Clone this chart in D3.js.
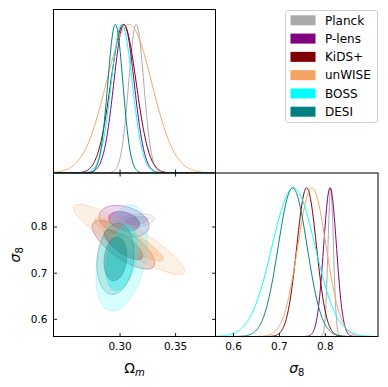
<!DOCTYPE html>
<html>
<head>
<meta charset="utf-8">
<script src="https://cdn.jsdelivr.net/npm/d3@7"></script>
<style>
  body { margin: 0; background: #fff; }
  svg { font-family: "DejaVu Sans", sans-serif; }
</style>
</head>
<body>
<div id="chart"></div>
<script>
// probes, in legend order
let probes = ["Planck", "P-lens", "KiDS+", "unWISE", "BOSS", "DESI"];
let colors = ["#aaaaaa", "#800080", "#800000", "#f4a460", "#00ffff", "#008080"];

// marginal means / widths
let omMean = [0.3150, 0.3040, 0.3035, 0.3085, 0.3020, 0.2962];
let omSigma = [0.0068, 0.0092, 0.0115, 0.0205, 0.0095, 0.0068];
let s8Mean = [0.8130, 0.8115, 0.7605, 0.7720, 0.7320, 0.7300];
let s8Sigma = [0.0060, 0.0140, 0.0215, 0.0310, 0.0470, 0.0315];
// correlation between Omega_m and sigma_8 (sets the contour tilt)
let rho = [0.30, -0.30, -0.75, -0.90, 0.35, 0.15];

let omTicks = [0.30, 0.35];
let s8Ticks = [0.6, 0.7, 0.8];
let omDomain = [0.2405, 0.3864];
let s8Domain = [0.5618, 0.9160];

// 95% and 68% levels of a 2D gaussian, with their fill opacity
let levels = [Math.sqrt(-2 * Math.log(0.05)), Math.sqrt(-2 * Math.log(0.32))];
let levelAlpha = [0.16, 0.34];

let width = 388, height = 387;
let x0 = 53.5, x1 = 215.5, x2 = 378;
let y0 = 9.5, y1 = 173, y2 = 336.5;

let svg = d3.select("#chart").append("svg")
  .attr("width", width)
  .attr("height", height);

let omScale = d3.scaleLinear().domain(omDomain).range([x0, x1]);
let s8Scale = d3.scaleLinear().domain(s8Domain).range([y2, y1]);
let s8ScaleX = d3.scaleLinear().domain(s8Domain).range([x1, x2]);
let pTop = d3.scaleLinear().domain([0, 1.1]).range([y1, y0]);
let pRight = d3.scaleLinear().domain([0, 1.1]).range([y2, y1]);

function gauss(v, m, s) {
  return Math.exp(-0.5 * ((v - m) / s) ** 2);
}

// clip paths for each panel
let defs = svg.append("defs");
function addClip(id, x, y, w, h) {
  defs.append("clipPath").attr("id", id)
    .append("rect").attr("x", x).attr("y", y).attr("width", w).attr("height", h);
}
addClip("cTop", x0, y0, x1 - x0, y1 - y0);
addClip("cMain", x0, y1, x1 - x0, y2 - y1);
addClip("cRight", x1, y1, x2 - x1, y2 - y1);

////////////////////////////////////////////////////////////////////////
// 2D contours

let mainG = svg.append("g").attr("clip-path", "url(#cMain)");
let ellipse = d3.line().curve(d3.curveLinearClosed);

probes.forEach((p, i) => {
  levels.forEach((r, k) => {
    let pts = d3.range(0, 2 * Math.PI, Math.PI / 90).map((t) => {
      let a = Math.cos(t), b = Math.sin(t);
      let om = omMean[i] + r * omSigma[i] * a;
      let s8 = s8Mean[i] + r * s8Sigma[i] * (rho[i] * a + Math.sqrt(1 - rho[i] ** 2) * b);
      return [omScale(om), s8Scale(s8)];
    });
    mainG.append("path")
      .attr("d", ellipse(pts))
      .attr("fill", colors[i])
      .attr("fill-opacity", levelAlpha[k])
      .attr("stroke", colors[i] == "#00ffff" ? "#7fd8d8" : colors[i])
      .attr("stroke-opacity", 0.4)
      .attr("stroke-width", 0.8);
  });
});

////////////////////////////////////////////////////////////////////////
// 1D marginals

let topG = svg.append("g").attr("clip-path", "url(#cTop)");
let rightG = svg.append("g").attr("clip-path", "url(#cRight)");

let omGrid = d3.range(omDomain[0], omDomain[1], 0.0005);
let s8Grid = d3.range(s8Domain[0], s8Domain[1], 0.001);

probes.forEach((p, i) => {
  let lineTop = d3.line()
    .x((d) => omScale(d))
    .y((d) => pTop(gauss(d, omMean[i], omSigma[i])));
  topG.append("path")
    .datum(omGrid)
    .attr("d", lineTop)
    .attr("fill", "none")
    .attr("stroke", colors[i])
    .attr("stroke-width", 1);

  let lineRight = d3.line()
    .x((d) => s8ScaleX(d))
    .y((d) => pRight(gauss(d, s8Mean[i], s8Sigma[i])));
  rightG.append("path")
    .datum(s8Grid)
    .attr("d", lineRight)
    .attr("fill", "none")
    .attr("stroke", colors[i])
    .attr("stroke-width", 1);
});

////////////////////////////////////////////////////////////////////////
// axes (inward ticks)

function axis(gen, tx, ty, fmt) {
  let g = svg.append("g")
    .attr("transform", "translate(" + tx + "," + ty + ")")
    .call(gen.tickSize(-3.5).tickPadding(6).tickFormat(fmt || (() => "")));
  g.select(".domain").remove();
  g.selectAll(".tick line").attr("stroke", "#000").attr("stroke-width", 0.9);
  g.selectAll(".tick text").attr("font-size", "10.5px").attr("fill", "#000")
    .attr("font-family", "DejaVu Sans");
  return g;
}

let omFmt = d3.format(".2f");
let s8Fmt = d3.format(".1f");

axis(d3.axisBottom(omScale).tickValues(omTicks), 0, y1, null);
axis(d3.axisBottom(omScale).tickValues(omTicks), 0, y2, omFmt);
axis(d3.axisTop(omScale).tickValues(omTicks), 0, y1, null);
axis(d3.axisLeft(s8Scale).tickValues(s8Ticks), x0, 0, s8Fmt);
axis(d3.axisRight(s8Scale).tickValues(s8Ticks), x1, 0, null);
axis(d3.axisBottom(s8ScaleX).tickValues(s8Ticks), 0, y2, s8Fmt);

// panel frames
[[x0, y0, x1, y1], [x0, y1, x1, y2], [x1, y1, x2, y2]].forEach((b) => {
  svg.append("rect")
    .attr("x", b[0]).attr("y", b[1])
    .attr("width", b[2] - b[0]).attr("height", b[3] - b[1])
    .attr("fill", "none")
    .attr("stroke", "#000")
    .attr("stroke-width", 1);
});

////////////////////////////////////////////////////////////////////////
// axis labels

function omLabel(x, y) {
  let t = svg.append("text")
    .attr("x", x).attr("y", y)
    .attr("text-anchor", "middle")
    .attr("font-size", "14px");
  t.append("tspan").text("Ω");
  t.append("tspan").attr("font-style", "italic").attr("font-size", "10px")
    .attr("dy", "3").text("m");
}

function s8Label(g, x, y) {
  let t = g.append("text")
    .attr("x", x).attr("y", y)
    .attr("text-anchor", "middle")
    .attr("font-size", "14px");
  t.append("tspan").attr("font-style", "italic").text("σ");
  t.append("tspan").attr("font-size", "10px").attr("dy", "3").text("8");
}

omLabel((x0 + x1) / 2, 373);
s8Label(svg, (x1 + x2) / 2, 373);
let rot = svg.append("g")
  .attr("transform", "translate(20," + ((y1 + y2) / 2) + ") rotate(-90)");
s8Label(rot, 0, 0);

////////////////////////////////////////////////////////////////////////
// legend

let leg = svg.append("g");
leg.append("rect")
  .attr("x", 285.5).attr("y", 10.5)
  .attr("width", 92).attr("height", 112)
  .attr("rx", 2.5)
  .attr("fill", "#fff")
  .attr("stroke", "#d0d0d0")
  .attr("stroke-width", 1);

let rowY = d3.scaleLinear().domain([0, probes.length - 1]).range([20.3, 111.7]);

probes.forEach((p, i) => {
  leg.append("rect")
    .attr("x", 290.5).attr("y", rowY(i) - 5)
    .attr("width", 25).attr("height", 10)
    .attr("fill", colors[i]);
  leg.append("text")
    .attr("x", 325).attr("y", rowY(i))
    .attr("dy", "0.36em")
    .attr("font-size", "12px")
    .text(p);
});
</script>
</body>
</html>
